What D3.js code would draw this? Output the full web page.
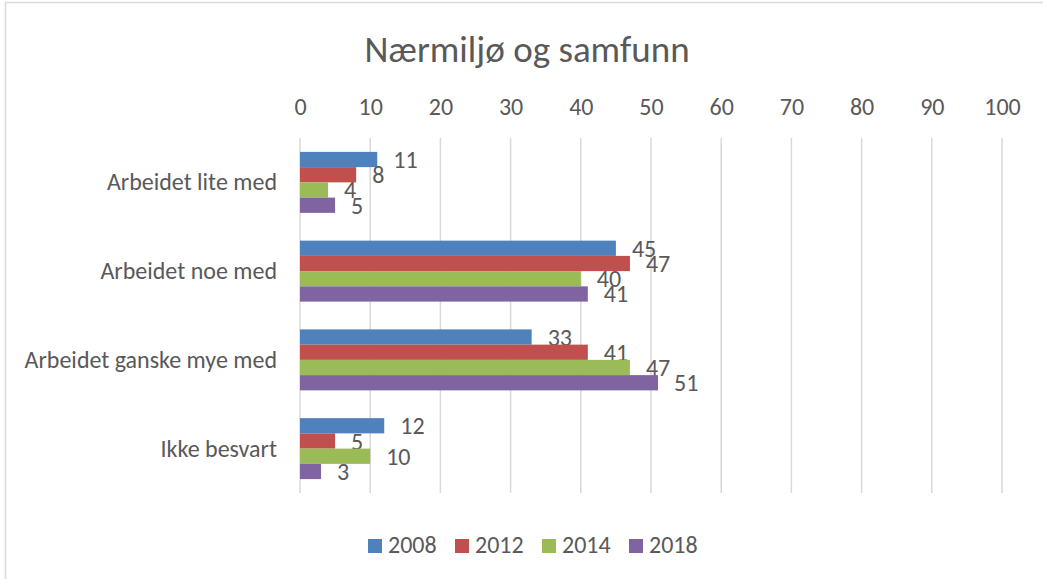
<!DOCTYPE html>
<html>
<head>
<meta charset="utf-8">
<script src="https://d3js.org/d3.v7.min.js"></script>
<style>
body { margin: 0; background: #fff; }
text { font-family: Carlito, Calibri, "Open Sans", sans-serif; fill: #595959; }
</style>
</head>
<body>
<div id="chart"></div>
<script>
var categories = ["Arbeidet lite med", "Arbeidet noe med", "Arbeidet ganske mye med", "Ikke besvart"];
var years = ["2008", "2012", "2014", "2018"];
var colors = ["#4f81bd", "#c0504d", "#9bbb59", "#8064a2"];
var values2008 = [11, 45, 33, 12];
var values2012 = [8, 47, 41, 5];
var values2014 = [4, 40, 47, 10];
var values2018 = [5, 41, 51, 3];
var ticks = [0, 10, 20, 30, 40, 50, 60, 70, 80, 90, 100];

var series = [values2008, values2012, values2014, values2018];

var width = 1043;
var height = 579;
var plotLeft = 300, plotRight = 1002, plotTop = 138, plotBottom = 493;

var svg = d3.select("#chart")
	.append("svg")
	.attr("width", width)
	.attr("height", height);

// chart border (right and bottom edges fall outside the picture)
svg.append("rect")
	.attr("x", 5.5)
	.attr("y", 2.5)
	.attr("width", 1100)
	.attr("height", 700)
	.attr("fill", "#fff")
	.attr("stroke", "#d9d9d9")
	.attr("stroke-width", 1.5);

svg.append("text")
	.attr("x", 527)
	.attr("y", 62)
	.attr("text-anchor", "middle")
	.style("font-size", "37px")
	.text("Nærmiljø og samfunn");

var x = d3.scaleLinear().domain([0, 100]).range([plotLeft, plotRight]);
var y0 = d3.scaleBand().domain(categories).range([plotTop, plotBottom]).paddingInner(0.313).paddingOuter(0.1565);
var y1 = d3.scaleBand().domain(years).range([0, y0.bandwidth()]);

// gridlines
svg.append("g").selectAll("line")
	.data(ticks)
	.enter()
	.append("line")
	.attr("x1", function(d) { return x(d); })
	.attr("x2", function(d) { return x(d); })
	.attr("y1", plotTop)
	.attr("y2", plotBottom)
	.attr("stroke", "#d9d9d9")
	.attr("stroke-width", 1.5);

// top axis labels
var axis = svg.append("g")
	.attr("transform", "translate(0,115)")
	.call(d3.axisTop(x).tickValues(ticks).tickSize(0).tickPadding(0));
axis.select(".domain").remove();
axis.selectAll("text")
	.attr("dy", null)
	.attr("fill", null)
	.style("font-size", "24px");
axis.attr("font-family", null).attr("font-size", null);

// category labels
svg.append("g").selectAll("text")
	.data(categories)
	.enter()
	.append("text")
	.attr("x", 277)
	.attr("y", function(d) { return y0(d) + y0.bandwidth() / 2 + 8; })
	.attr("text-anchor", "end")
	.style("font-size", "24px")
	.text(function(d) { return d; });

// bars and value labels
series.forEach(function(vals, si) {
	var g = svg.append("g");
	g.selectAll("rect")
		.data(vals)
		.enter()
		.append("rect")
		.attr("x", x(0))
		.attr("y", function(d, i) { return y0(categories[i]) + y1(years[si]); })
		.attr("width", function(d) { return x(d) - x(0); })
		.attr("height", y1.bandwidth())
		.attr("fill", colors[si]);

	g.selectAll("text")
		.data(vals)
		.enter()
		.append("text")
		.attr("x", function(d) { return x(d) + 16; })
		.attr("y", function(d, i) { return y0(categories[i]) + y1(years[si]) + y1.bandwidth() / 2 + 8.5; })
		.style("font-size", "24px")
		.text(function(d) { return d; });
});

// legend
var legend = svg.append("g").selectAll("g")
	.data(years)
	.enter()
	.append("g")
	.attr("transform", function(d, i) { return "translate(" + (368 + i * 87) + ",539)"; });
legend.append("rect")
	.attr("width", 14)
	.attr("height", 14)
	.attr("fill", function(d, i) { return colors[i]; });
legend.append("text")
	.attr("x", 20)
	.attr("y", 14)
	.style("font-size", "24px")
	.text(function(d) { return d; });
</script>
</body>
</html>
